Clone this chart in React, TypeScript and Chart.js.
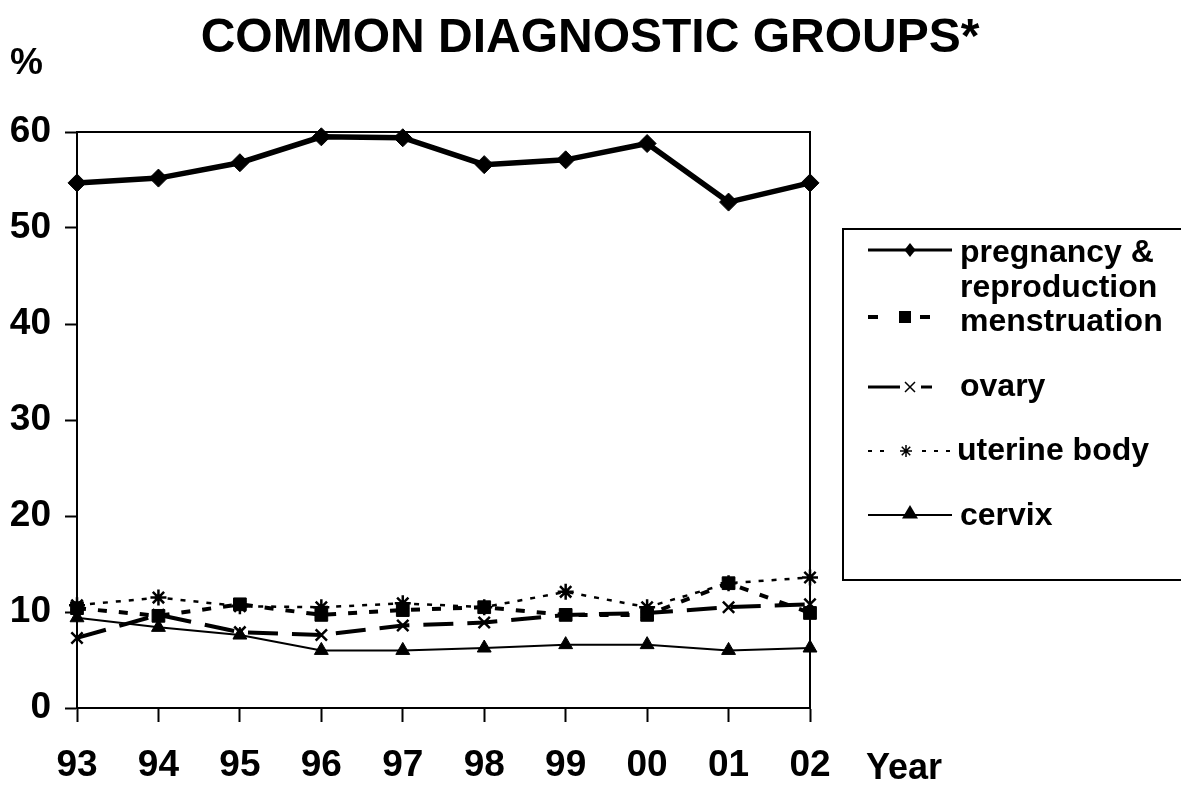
import React, { useEffect, useRef } from 'react';
import { Chart, registerables } from 'chart.js';

Chart.register(...registerables);

const years = ['93', '94', '95', '96', '97', '98', '99', '00', '01', '02'];
const pregnancy = [54.7, 55.2, 56.8, 59.5, 59.4, 56.6, 57.1, 58.8, 52.7, 54.7];
const menstruation = [10.4, 9.6, 10.8, 9.7, 10.2, 10.5, 9.7, 9.7, 13.0, 9.9];
const ovary = [7.3, 9.7, 7.9, 7.6, 8.6, 8.9, 9.7, 9.9, 10.5, 10.8];
const uterineBody = [10.7, 11.5, 10.6, 10.5, 10.9, 10.5, 12.1, 10.5, 13.0, 13.6];
const cervix = [9.4, 8.4, 7.6, 6.0, 6.0, 6.25, 6.6, 6.6, 6.0, 6.25];

const seriesLabels = ['pregnancy & reproduction', 'menstruation', 'ovary', 'uterine body', 'cervix'];
const titleText = 'COMMON DIAGNOSTIC GROUPS*';
const yUnit = '%';
const xUnit = 'Year';
const yMin = 0;
const yMax = 60;
const yStep = 10;

const FONT = '"Liberation Sans", Arial, Helvetica, sans-serif';
const INK = '#000000';

function drawMarker(ctx: CanvasRenderingContext2D, kind: string, x: number, y: number, r: number) {
  ctx.save();
  ctx.fillStyle = INK;
  ctx.strokeStyle = INK;
  ctx.setLineDash([]);
  ctx.beginPath();
  if (kind === 'diamond') {
    ctx.moveTo(x, y - r);
    ctx.lineTo(x + r * 0.8, y);
    ctx.lineTo(x, y + r);
    ctx.lineTo(x - r * 0.8, y);
    ctx.closePath();
    ctx.fill();
  } else if (kind === 'square') {
    ctx.fillRect(x - r, y - r, 2 * r, 2 * r);
  } else if (kind === 'x') {
    ctx.lineWidth = 1.5;
    ctx.moveTo(x - r, y - r);
    ctx.lineTo(x + r, y + r);
    ctx.moveTo(x + r, y - r);
    ctx.lineTo(x - r, y + r);
    ctx.stroke();
  } else if (kind === 'star') {
    ctx.lineWidth = 1.5;
    for (let i = 0; i < 4; i++) {
      const a = (Math.PI / 4) * i;
      ctx.moveTo(x - Math.cos(a) * r, y - Math.sin(a) * r);
      ctx.lineTo(x + Math.cos(a) * r, y + Math.sin(a) * r);
    }
    ctx.stroke();
  } else if (kind === 'triangle') {
    ctx.moveTo(x, y - r);
    ctx.lineTo(x + r, y + r * 0.7);
    ctx.lineTo(x - r, y + r * 0.7);
    ctx.closePath();
    ctx.fill();
  }
  ctx.restore();
}

export default function App() {
  const ref = useRef<HTMLCanvasElement>(null);

  useEffect(() => {
    const canvas = ref.current;
    if (!canvas) return;

    const background = {
      id: 'background',
      beforeDraw(chart: any) {
        const ctx = chart.ctx as CanvasRenderingContext2D;
        ctx.save();
        ctx.fillStyle = '#ffffff';
        ctx.fillRect(0, 0, chart.width, chart.height);
        ctx.restore();
      },
    };

    const frame = {
      id: 'frame',
      beforeDatasetsDraw(chart: any) {
        const { ctx, chartArea } = chart;
        ctx.save();
        ctx.strokeStyle = INK;
        ctx.lineWidth = 2;
        ctx.beginPath();
        ctx.moveTo(chartArea.left, chartArea.top);
        ctx.lineTo(chartArea.right, chartArea.top);
        ctx.lineTo(chartArea.right, chartArea.bottom);
        ctx.stroke();
        ctx.restore();
      },
    };

    const texts = {
      id: 'texts',
      afterDraw(chart: any) {
        const ctx = chart.ctx as CanvasRenderingContext2D;
        ctx.save();
        ctx.fillStyle = INK;
        ctx.textBaseline = 'alphabetic';
        ctx.font = `bold 48px ${FONT}`;
        ctx.textAlign = 'center';
        ctx.fillText(titleText, 590, 52);
        ctx.textAlign = 'left';
        ctx.font = `bold 37px ${FONT}`;
        ctx.fillText(yUnit, 10, 74);
        ctx.font = `bold 36px ${FONT}`;
        ctx.fillText(xUnit, 866, 779);
        ctx.restore();
      },
    };

    const legendBox = {
      id: 'legendBox',
      afterDraw(chart: any) {
        const ctx = chart.ctx as CanvasRenderingContext2D;
        ctx.save();
        ctx.strokeStyle = INK;
        ctx.lineWidth = 2;
        ctx.beginPath();
        ctx.moveTo(1190, 229);
        ctx.lineTo(843, 229);
        ctx.lineTo(843, 580);
        ctx.lineTo(1190, 580);
        ctx.stroke();

        const seg = (x1: number, x2: number, y: number, w: number) => {
          ctx.save();
          ctx.strokeStyle = INK;
          ctx.lineWidth = w;
          ctx.setLineDash([]);
          ctx.beginPath();
          ctx.moveTo(x1, y);
          ctx.lineTo(x2, y);
          ctx.stroke();
          ctx.restore();
        };

        // pregnancy & reproduction
        seg(868, 952, 250, 3);
        drawMarker(ctx, 'diamond', 910, 250, 7);
        // menstruation
        seg(868, 878, 317, 4);
        seg(920, 930, 317, 4);
        drawMarker(ctx, 'square', 905, 317, 6);
        // ovary
        seg(868, 900, 387, 3);
        seg(921, 932, 387, 3);
        drawMarker(ctx, 'x', 910, 387, 5);
        // uterine body
        [868, 880, 922, 934, 946].forEach((x) => seg(x, x + 4, 451, 2));
        drawMarker(ctx, 'star', 906, 451, 6);
        // cervix
        seg(868, 952, 515, 2);
        drawMarker(ctx, 'triangle', 910, 513, 8);

        ctx.fillStyle = INK;
        ctx.font = `bold 32px ${FONT}`;
        ctx.textAlign = 'left';
        ctx.textBaseline = 'alphabetic';
        const first = seriesLabels[0];
        const cut = first.indexOf('&') + 1;
        ctx.fillText(first.slice(0, cut), 960, 262);
        ctx.fillText(first.slice(cut).trim(), 960, 297);
        ctx.fillText(seriesLabels[1], 960, 331);
        ctx.fillText(seriesLabels[2], 960, 396);
        ctx.fillText(seriesLabels[3], 957, 460);
        ctx.fillText(seriesLabels[4], 960, 525);
        ctx.restore();
      },
    };

    const tickFont = { family: FONT, size: 37, weight: 'bold' as const };

    const chart = new Chart(canvas, {
      type: 'line',
      data: {
        labels: years,
        datasets: [
          {
            label: seriesLabels[0],
            data: pregnancy,
            borderColor: INK,
            backgroundColor: INK,
            borderWidth: 5.5,
            pointStyle: 'rectRot',
            pointRadius: 9,
            pointBorderWidth: 1,
            pointBackgroundColor: INK,
            pointBorderColor: INK,
            tension: 0,
            order: 1,
            clip: false as any,
          },
          {
            label: seriesLabels[1],
            data: menstruation,
            borderColor: INK,
            backgroundColor: INK,
            borderWidth: 4,
            borderDash: [9, 12],
            pointStyle: 'rect',
            pointRadius: 9,
            pointBorderWidth: 1,
            pointBackgroundColor: INK,
            pointBorderColor: INK,
            tension: 0,
            order: 2,
            clip: false as any,
          },
          {
            label: seriesLabels[2],
            data: ovary,
            borderColor: INK,
            backgroundColor: INK,
            borderWidth: 4,
            borderDash: [30, 14],
            pointStyle: 'crossRot',
            pointRadius: 8,
            pointBorderWidth: 2.5,
            pointBackgroundColor: INK,
            pointBorderColor: INK,
            tension: 0,
            order: 4,
            clip: false as any,
          },
          {
            label: seriesLabels[3],
            data: uterineBody,
            borderColor: INK,
            backgroundColor: INK,
            borderWidth: 2.5,
            borderDash: [5, 8],
            pointStyle: 'star',
            pointRadius: 8,
            pointBorderWidth: 2.5,
            pointBackgroundColor: INK,
            pointBorderColor: INK,
            tension: 0,
            order: 5,
            clip: false as any,
          },
          {
            label: seriesLabels[4],
            data: cervix,
            borderColor: INK,
            backgroundColor: INK,
            borderWidth: 2,
            pointStyle: 'triangle',
            pointRadius: 8,
            pointBorderWidth: 1,
            pointBackgroundColor: INK,
            pointBorderColor: INK,
            tension: 0,
            order: 3,
            clip: false as any,
          },
        ],
      },
      options: {
        responsive: false,
        maintainAspectRatio: false,
        animation: false,
        devicePixelRatio: 1,
        layout: { padding: { left: 0, top: 132, right: 371, bottom: 0 } },
        plugins: {
          legend: { display: false },
          title: { display: false },
          tooltip: { enabled: false },
        },
        scales: {
          x: {
            type: 'category',
            offset: false,
            ticks: {
              color: INK,
              font: tickFont,
              padding: 22,
              maxRotation: 0,
              autoSkip: false,
            },
            grid: {
              display: true,
              drawOnChartArea: false,
              drawTicks: true,
              tickLength: 14,
              tickColor: INK,
              tickWidth: 2,
            },
            border: { display: true, color: INK, width: 2 },
            afterFit: (s: any) => {
              s.height = 77;
            },
          },
          y: {
            min: yMin,
            max: yMax,
            ticks: {
              stepSize: yStep,
              color: INK,
              font: tickFont,
              padding: 14,
            },
            grid: {
              display: true,
              drawOnChartArea: false,
              drawTicks: true,
              tickLength: 12,
              tickColor: INK,
              tickWidth: 2,
            },
            border: { display: true, color: INK, width: 2 },
            afterFit: (s: any) => {
              s.width = 77;
            },
          },
        },
      },
      plugins: [background, frame, texts, legendBox],
    });

    return () => {
      chart.destroy();
    };
  }, []);

  return (
    <div style={{ position: 'absolute', left: 0, top: 0, width: 1181, height: 785, background: '#fff' }}>
      <canvas ref={ref} width={1181} height={785} style={{ display: 'block', width: 1181, height: 785 }} />
    </div>
  );
}
